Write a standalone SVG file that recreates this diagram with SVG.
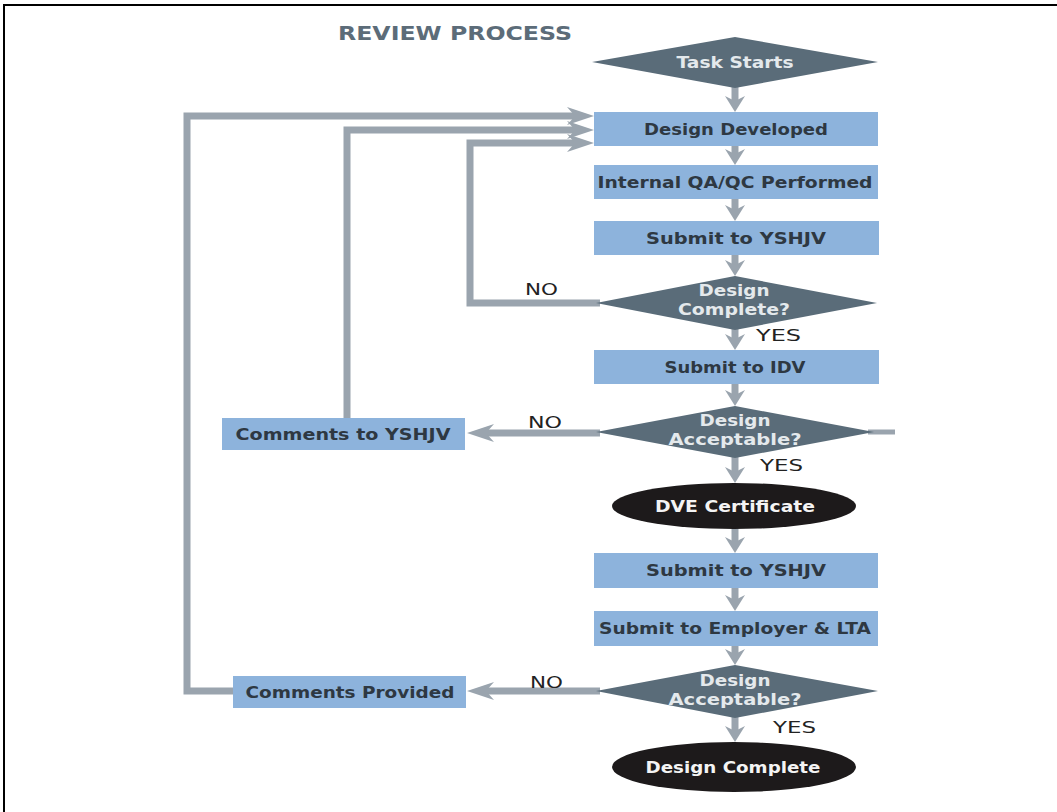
<svg xmlns="http://www.w3.org/2000/svg" width="1057" height="812" viewBox="0 0 1057 812">
  <style>
    .box { fill: #8db3dc; }
    .dia { fill: #5a6c79; }
    .ell { fill: #1d1a1b; }
    .conn { fill: none; stroke: #9aa4ae; stroke-width: 7; stroke-linejoin: miter; }
    .t { font-family: "DejaVu Sans", "Liberation Sans", sans-serif; font-weight: bold; font-size: 15.5px; text-anchor: middle; }
    .tb { fill: #2e3842; }
    .td { fill: #e4e9ec; }
    .te { fill: #f4f4f4; }
    .lbl { font-family: "DejaVu Sans", "Liberation Sans", sans-serif; font-size: 16.5px; fill: #222222; }
    .title { font-family: "DejaVu Sans", "Liberation Sans", sans-serif; font-weight: bold; font-size: 19px; fill: #5c6c79; }
  </style>
  <defs>
    <!-- arrowheads: reference point sits at the notch so the stroke ends inside the head -->
    <marker id="ah-h" markerUnits="userSpaceOnUse" viewBox="0 0 28 20" refX="8" refY="10" markerWidth="28" markerHeight="20" orient="auto">
      <path d="M0,1 L27,10 L0,19 L8,10 Z" fill="#9aa4ae"/>
    </marker>
    <marker id="ah-v" markerUnits="userSpaceOnUse" viewBox="0 0 17 22" refX="5" refY="11" markerWidth="17" markerHeight="22" orient="auto">
      <path d="M0,1 L16,11 L0,21 L5,11 Z" fill="#9aa4ae"/>
    </marker>
  </defs>

  <rect width="1057" height="812" fill="#ffffff"/>
  <!-- frame -->
  <path d="M4,812 V5 H1057" fill="none" stroke="#000000" stroke-width="2"/>

  <text class="title" x="338" y="40" textLength="234" lengthAdjust="spacingAndGlyphs">REVIEW PROCESS</text>

  <g id="connectors">
    <!-- main flow -->
    <path class="conn" d="M735,86 V101" marker-end="url(#ah-v)"/>
    <path class="conn" d="M735,146 V154" marker-end="url(#ah-v)"/>
    <path class="conn" d="M735,199 V210" marker-end="url(#ah-v)"/>
    <path class="conn" d="M735,255 V265" marker-end="url(#ah-v)"/>
    <path class="conn" d="M735,326 V339" marker-end="url(#ah-v)"/>
    <path class="conn" d="M735,384 V395" marker-end="url(#ah-v)"/>
    <path class="conn" d="M735,455 V472" marker-end="url(#ah-v)"/>
    <path class="conn" d="M735,528 V542" marker-end="url(#ah-v)"/>
    <path class="conn" d="M735,588 V600" marker-end="url(#ah-v)"/>
    <path class="conn" d="M735,646 V654" marker-end="url(#ah-v)"/>
    <path class="conn" d="M735,715 V731" marker-end="url(#ah-v)"/>
    <!-- return loops -->
    <path class="conn" d="M600,303 H470 V143 H575" marker-end="url(#ah-h)"/>
    <path class="conn" d="M347,418 V130 H575" marker-end="url(#ah-h)"/>
    <path class="conn" d="M233,691 H187 V116 H575" marker-end="url(#ah-h)"/>
    <!-- rejection branches -->
    <path class="conn" d="M600,433 H486" marker-end="url(#ah-h)"/>
    <path class="conn" d="M600,691 H486" marker-end="url(#ah-h)"/>
    <!-- stub to the right -->
    <path d="M868,432 H895" fill="none" stroke="#9aa4ae" stroke-width="5"/>
  </g>

  <g id="task-starts">
    <polygon class="dia" points="592,62 735,37 878,62 735,88"/>
    <text class="t td" x="735" y="67.5" textLength="117" lengthAdjust="spacingAndGlyphs">Task Starts</text>
  </g>
  <g id="design-developed">
    <rect class="box" x="594" y="112" width="284" height="34"/>
    <text class="t tb" x="736" y="134.5" textLength="184" lengthAdjust="spacingAndGlyphs">Design Developed</text>
  </g>
  <g id="internal-qaqc">
    <rect class="box" x="594" y="165" width="284" height="34"/>
    <text class="t tb" x="735" y="187.5" textLength="275" lengthAdjust="spacingAndGlyphs">Internal QA/QC Performed</text>
  </g>
  <g id="submit-yshjv-1">
    <rect class="box" x="594" y="221" width="285" height="34"/>
    <text class="t tb" x="736" y="243.5" textLength="180" lengthAdjust="spacingAndGlyphs">Submit to YSHJV</text>
  </g>
  <g id="design-complete-check">
    <polygon class="dia" points="596,303 735,276 877,303 735,330"/>
    <text class="t td" x="734" y="296" textLength="71" lengthAdjust="spacingAndGlyphs">Design</text>
    <text class="t td" x="734" y="315" textLength="112" lengthAdjust="spacingAndGlyphs">Complete?</text>
  </g>
  <g id="submit-idv">
    <rect class="box" x="594" y="350" width="285" height="34"/>
    <text class="t tb" x="735" y="372.5" textLength="141" lengthAdjust="spacingAndGlyphs">Submit to IDV</text>
  </g>
  <g id="design-acceptable-1">
    <polygon class="dia" points="596,432 735,406 874,432 735,458"/>
    <text class="t td" x="735" y="425.5" textLength="71" lengthAdjust="spacingAndGlyphs">Design</text>
    <text class="t td" x="735" y="444.5" textLength="133" lengthAdjust="spacingAndGlyphs">Acceptable?</text>
  </g>
  <g id="comments-to-yshjv">
    <rect class="box" x="222" y="418" width="243" height="32"/>
    <text class="t tb" x="343" y="439.5" textLength="215" lengthAdjust="spacingAndGlyphs">Comments to YSHJV</text>
  </g>
  <g id="dve-certificate">
    <ellipse class="ell" cx="734" cy="506" rx="122" ry="23"/>
    <text class="t te" x="735" y="511.5" textLength="160" lengthAdjust="spacingAndGlyphs">DVE Certificate</text>
  </g>
  <g id="submit-yshjv-2">
    <rect class="box" x="594" y="553" width="284" height="35"/>
    <text class="t tb" x="736" y="576" textLength="180" lengthAdjust="spacingAndGlyphs">Submit to YSHJV</text>
  </g>
  <g id="submit-employer-lta">
    <rect class="box" x="594" y="611" width="284" height="35"/>
    <text class="t tb" x="735" y="634" textLength="272" lengthAdjust="spacingAndGlyphs">Submit to Employer &amp; LTA</text>
  </g>
  <g id="design-acceptable-2">
    <polygon class="dia" points="596,691 735,665 878,691 735,718"/>
    <text class="t td" x="735" y="686" textLength="71" lengthAdjust="spacingAndGlyphs">Design</text>
    <text class="t td" x="735" y="705" textLength="133" lengthAdjust="spacingAndGlyphs">Acceptable?</text>
  </g>
  <g id="comments-provided">
    <rect class="box" x="233" y="676" width="233" height="32"/>
    <text class="t tb" x="350" y="697.5" textLength="209" lengthAdjust="spacingAndGlyphs">Comments Provided</text>
  </g>
  <g id="design-complete">
    <ellipse class="ell" cx="734" cy="767" rx="122" ry="25"/>
    <text class="t te" x="733" y="772.5" textLength="175" lengthAdjust="spacingAndGlyphs">Design Complete</text>
  </g>

  <g id="branch-labels">
    <text class="lbl" x="525" y="295" textLength="33" lengthAdjust="spacingAndGlyphs">NO</text>
    <text class="lbl" x="756" y="341" textLength="45" lengthAdjust="spacingAndGlyphs">YES</text>
    <text class="lbl" x="528" y="428" textLength="34" lengthAdjust="spacingAndGlyphs">NO</text>
    <text class="lbl" x="760" y="471" textLength="43" lengthAdjust="spacingAndGlyphs">YES</text>
    <text class="lbl" x="530" y="688" textLength="33" lengthAdjust="spacingAndGlyphs">NO</text>
    <text class="lbl" x="773" y="733" textLength="43" lengthAdjust="spacingAndGlyphs">YES</text>
  </g>
</svg>
